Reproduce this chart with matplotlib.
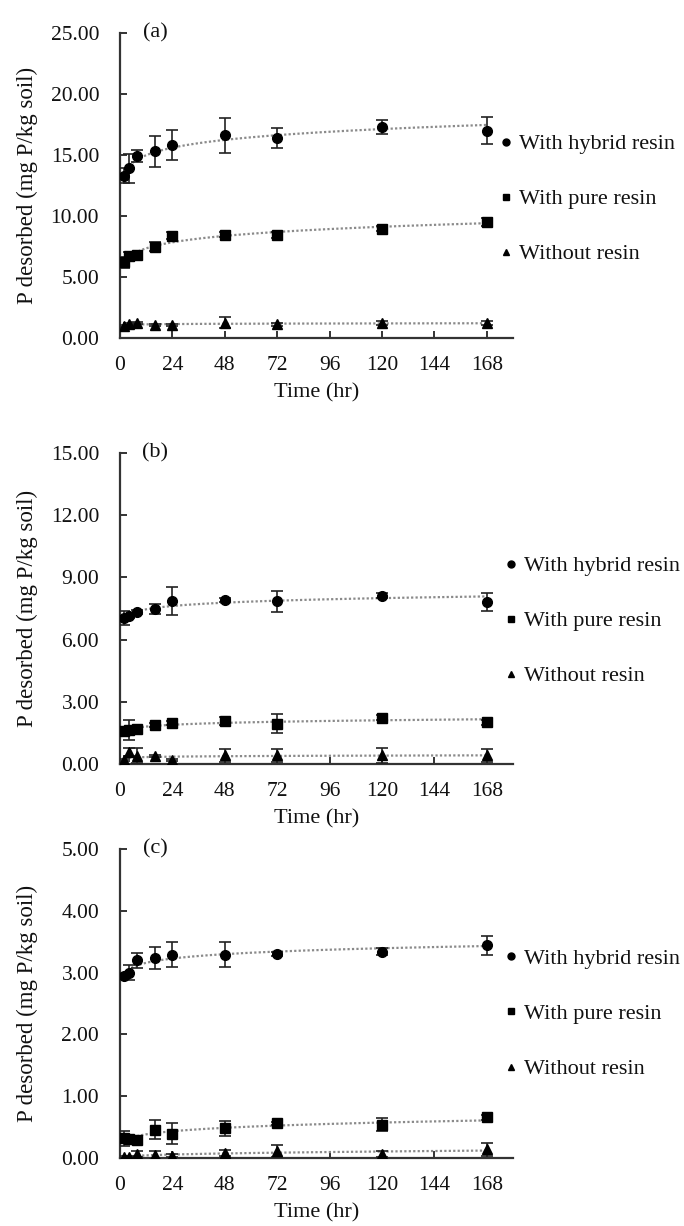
import numpy as np
import matplotlib
matplotlib.use("Agg")
import matplotlib.pyplot as plt
from matplotlib.lines import Line2D
from matplotlib.ticker import FormatStrFormatter

plt.rcParams['font.family'] = ['Liberation Serif', 'DejaVu Serif']

times = [2, 4, 8, 16, 24, 48, 72, 120, 168]
series_names = ["With hybrid resin", "With pure resin", "Without resin"]

a_hybrid = [13.3, 13.9, 14.9, 15.3, 15.8, 16.6, 16.4, 17.3, 17.0]
a_hybrid_err = [0.6, 1.2, 0.5, 1.25, 1.25, 1.4, 0.8, 0.55, 1.1]
a_pure = [6.2, 6.7, 6.8, 7.5, 8.4, 8.45, 8.45, 8.95, 9.5]
a_pure_err = [0.45, 0.35, 0.2, 0.35, 0.3, 0.2, 0.25, 0.2, 0.3]
a_without = [1.0, 1.15, 1.25, 1.05, 1.05, 1.25, 1.12, 1.22, 1.22]
a_without_err = [0.1, 0.1, 0.1, 0.1, 0.1, 0.45, 0.15, 0.15, 0.15]

b_hybrid = [7.05, 7.15, 7.32, 7.48, 7.85, 7.93, 7.85, 8.12, 7.81]
b_hybrid_err = [0.35, 0.1, 0.1, 0.25, 0.67, 0.1, 0.5, 0.12, 0.45]
b_pure = [1.6, 1.65, 1.68, 1.9, 1.98, 2.07, 1.95, 2.22, 2.02]
b_pure_err = [0.15, 0.47, 0.1, 0.1, 0.1, 0.18, 0.45, 0.12, 0.12]
b_without = [0.18, 0.58, 0.4, 0.37, 0.18, 0.42, 0.42, 0.42, 0.42]
b_without_err = [0.05, 0.2, 0.35, 0.05, 0.05, 0.3, 0.3, 0.35, 0.3]

c_hybrid = [2.94, 3.0, 3.2, 3.24, 3.29, 3.29, 3.3, 3.34, 3.44]
c_hybrid_err = [0.05, 0.12, 0.12, 0.18, 0.2, 0.2, 0.03, 0.05, 0.15]
c_pure = [0.32, 0.31, 0.29, 0.46, 0.39, 0.48, 0.56, 0.54, 0.66]
c_pure_err = [0.12, 0.05, 0.03, 0.15, 0.17, 0.12, 0.03, 0.1, 0.04]
c_without = [0.02, 0.02, 0.07, 0.05, 0.04, 0.08, 0.11, 0.07, 0.14]
c_without_err = [0.02, 0.02, 0.05, 0.06, 0.03, 0.05, 0.1, 0.05, 0.1]

x_ticks = [0, 24, 48, 72, 96, 120, 144, 168]
panel_labels = ["(a)", "(b)", "(c)"]
y_max = [25, 15, 5]
y_step = [5, 3, 1]

panels = [
    [(a_hybrid, a_hybrid_err), (a_pure, a_pure_err), (a_without, a_without_err)],
    [(b_hybrid, b_hybrid_err), (b_pure, b_pure_err), (b_without, b_without_err)],
    [(c_hybrid, c_hybrid_err), (c_pure, c_pure_err), (c_without, c_without_err)],
]

W, H = 684, 1226
fig = plt.figure(figsize=(W / 100, H / 100), dpi=100)

# axes boxes in pixels: (left, right, top, bottom)
boxes = [(120, 513, 33, 338), (120, 513, 453, 764), (120, 513, 849, 1158)]
legend_x_px = [500, 505, 505]
legend_mid_px = [199, 621, 1014]
markers = ['o', 's', '^']
msizes = [7, 6.5, 7.5]
axis_col = '#333333'
fs_tick = 15.5
fs = 16

for i, (l, r, t, b) in enumerate(boxes):
    ax = fig.add_axes([l / W, 1 - b / H, (r - l) / W, (b - t) / H])
    tt = np.array(times, dtype=float)
    for j, (vals, errs) in enumerate(panels[i]):
        v = np.array(vals, dtype=float)
        # power trendline fitted to the data
        coef = np.polyfit(np.log(tt), np.log(v), 1)
        tf = np.linspace(tt[0], tt[-1], 200)
        yf = np.exp(coef[1]) * tf ** coef[0]
        ax.plot(tf, yf, linestyle=(0, (1, 1)), color='#8a8a8a', lw=1.6, zorder=2)
        ax.errorbar(tt, v, yerr=errs, fmt=markers[j], color='black',
                    ms=msizes[j], ecolor='#222222', elinewidth=1.2,
                    capsize=4.5, capthick=1.2, zorder=3)
    ax.set_xlim(0, 180)
    ax.set_ylim(0, y_max[i])
    ax.set_xticks(x_ticks)
    ax.set_yticks(np.arange(0, y_max[i] + 0.01, y_step[i]))
    ax.yaxis.set_major_formatter(FormatStrFormatter('%.2f'))
    for s in ['top', 'right']:
        ax.spines[s].set_visible(False)
    for s in ['left', 'bottom']:
        ax.spines[s].set_linewidth(1.6)
        ax.spines[s].set_color(axis_col)
    ax.tick_params(direction='in', length=5, width=1.4, color=axis_col,
                   labelsize=fs_tick, labelcolor='#111111')
    ax.tick_params(axis='x', pad=13)
    ax.tick_params(axis='y', pad=15)
    ax.set_xlabel("Time (hr)", fontsize=16, color='#111111')
    ax.xaxis.set_label_coords(0.5, -55 / (b - t))
    ax.xaxis.label.set_va('center')
    ax.set_ylabel("P desorbed (mg P/kg soil)", fontsize=16.5, color='#111111')
    ax.yaxis.set_label_coords((27 - l) / (r - l), 0.5)
    ax.yaxis.label.set_va('center')
    ax.text((155 - l) / (r - l), 1.0, panel_labels[i], transform=ax.transAxes,
            fontsize=16, ha='center', va='center', color='#111111')

    handles = [Line2D([], [], marker=markers[j], color='black', linestyle='none',
                      ms=5) for j in range(3)]
    leg = ax.legend(handles, series_names, loc='center left',
                    bbox_to_anchor=((legend_x_px[i] - l) / (r - l),
                                    (b - legend_mid_px[i]) / (b - t)),
                    frameon=False, fontsize=fs, handlelength=0.5,
                    handletextpad=0.35, labelspacing=1.55, borderpad=0,
                    borderaxespad=0)
    for txt in leg.get_texts():
        txt.set_color('#111111')

fig.savefig("out.png", dpi=100)
